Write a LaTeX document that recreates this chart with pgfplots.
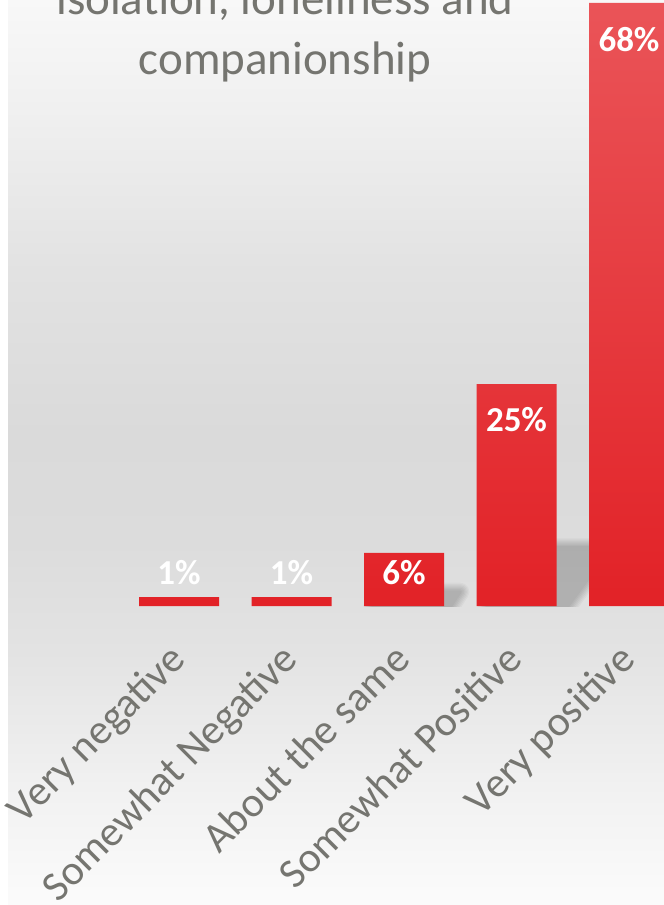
\documentclass[border=0pt]{standalone}
\usepackage{fontspec}
\setmainfont{Carlito}
\usepackage{pgfplots}
\pgfplotsset{compat=1.18}
\definecolor{txt}{RGB}{117,117,112}
\definecolor{bartop}{RGB}{234,84,88}
\definecolor{barbot}{RGB}{226,34,39}
\definecolor{bg0}{RGB}{251,251,251}
\definecolor{bg1}{RGB}{242,242,242}
\definecolor{bg2}{RGB}{227,227,227}
\definecolor{bg3}{RGB}{220,220,220}
\definecolor{bg4}{RGB}{218,218,218}
\definecolor{bg5}{RGB}{226,226,226}
\definecolor{bg6}{RGB}{240,240,240}
\definecolor{bg7}{RGB}{248,248,248}
\pgfdeclareverticalshading{bgshade}{100bp}{color(0bp)=(bg0); color(25bp)=(bg0); color(31bp)=(bg1); color(39bp)=(bg2); color(45bp)=(bg3); color(51bp)=(bg4); color(60bp)=(bg5); color(69bp)=(bg6); color(75bp)=(bg7); color(100bp)=(bg7)}
\begin{document}
\begin{tikzpicture}
\useasboundingbox (0pt,-299pt) rectangle (664pt,606pt);
\clip (0pt,-299pt) rectangle (664pt,606pt);
\fill[white] (0pt,-299pt) rectangle (664pt,606pt);
\shade[shading=bgshade] (8pt,-299pt) rectangle (664pt,606pt);
\node[anchor=base, text=txt, inner sep=0pt, font=\fontsize{47}{56}\selectfont] at (285pt,591pt) {isolation, loneliness and};
\node[anchor=base, text=txt, inner sep=0pt, font=\fontsize{47}{56}\selectfont] at (285pt,531pt) {companionship};
\begin{axis}[
  at={(0pt,0pt)}, anchor=south west,
  scale only axis, width=664pt, height=606pt,
  xmin=-1.5911, xmax=4.3111, ymin=0, ymax=68.32,
  axis line style={draw=none}, tick style={draw=none},
  ytick=\empty,
  xtick={0,1,2,3,4},
  xticklabels={Very negative, Somewhat Negative, About the same, Somewhat Positive, Very positive},
  xticklabel style={inner sep=0pt, xshift=8pt, yshift=-56pt, rotate=45, anchor=base east, text=txt, font=\fontsize{42}{50}\selectfont},
  clip=true,
]
% soft perspective shadows behind the bars (layered to look blurred)
\pgfplotsinvokeforeach{1,...,7}{
  \begin{scope}[transparency group, opacity=0.032]
  \filldraw[black, line width=#1*2.6pt, line join=round]
    (axis cs:1.72,0) -- (axis cs:2.42,0) -- (axis cs:2.50,1.6) -- (axis cs:1.80,1.6) -- cycle;
  \filldraw[black, line width=#1*2.6pt, line join=round]
    (axis cs:2.74,0) -- (axis cs:3.46,0) -- (axis cs:3.84,6.6) -- (axis cs:3.12,6.6) -- cycle;
  \end{scope}
}
\addplot[ybar, bar width=80pt, draw=none, top color=bartop, bottom color=barbot]
  coordinates {(0,1) (1,1) (2,6) (3,25) (4,68)};
\addplot[draw=none, mark=none, nodes near coords, point meta=explicit symbolic,
  every node near coord/.append style={anchor=center, inner sep=0pt, text=white, font=\bfseries\fontsize{35}{42}\selectfont}]
  table[meta=lab, row sep=\\] {
  x y lab\\
  0 3.78 1\%\\
  1 3.78 1\%\\
  2 3.78 6\%\\
  3 20.97 25\%\\
  4 63.81 68\%\\
  };
\end{axis}
\end{tikzpicture}
\end{document}
